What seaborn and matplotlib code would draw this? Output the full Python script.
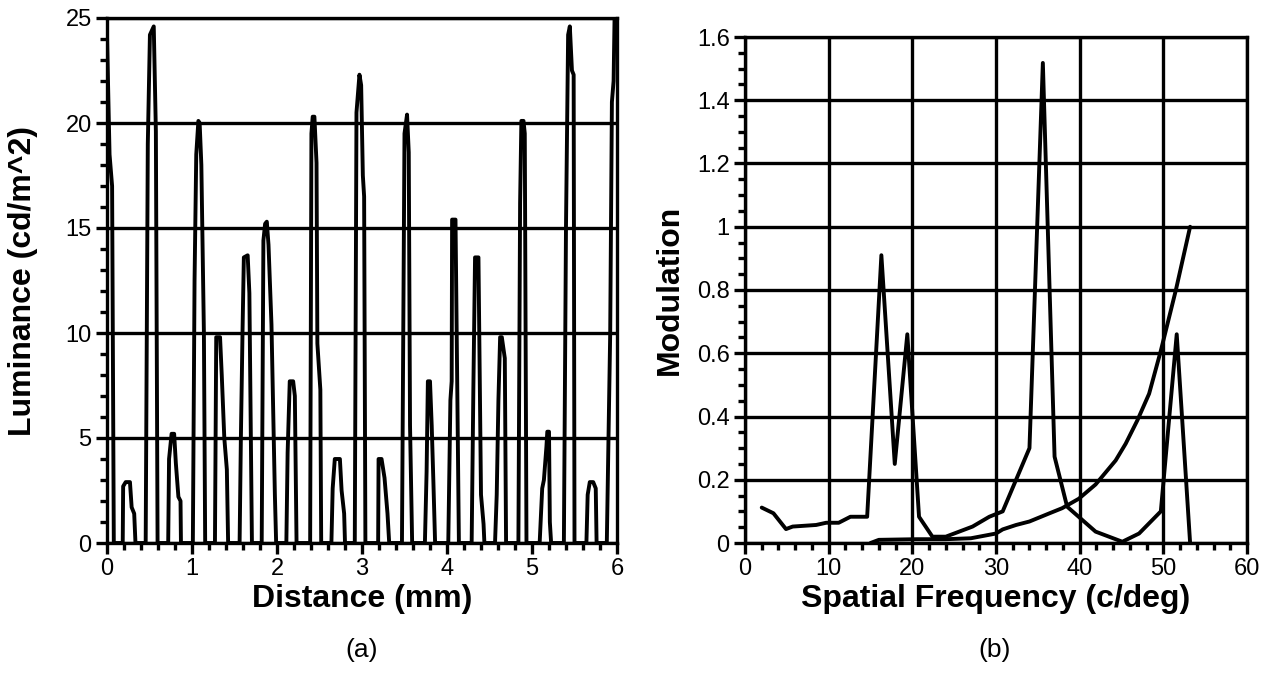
import numpy as np
import pandas as pd
import matplotlib
matplotlib.use("Agg")
import matplotlib.pyplot as plt
from matplotlib.ticker import MultipleLocator, FuncFormatter
import seaborn as sns

# ---------------- data ----------------
# (a) luminance profile
distance_mm = [
    0.00, 0.03, 0.06, 0.08,
    0.185, 0.19, 0.22, 0.27, 0.29, 0.32, 0.335,
    0.455, 0.48, 0.505, 0.55, 0.575, 0.595,
    0.72, 0.73, 0.76, 0.79, 0.81, 0.84, 0.865, 0.87,
    1.01, 1.03, 1.05, 1.075, 1.09, 1.11, 1.14, 1.155,
    1.27, 1.285, 1.33, 1.35, 1.38, 1.41, 1.425,
    1.56, 1.575, 1.595, 1.61, 1.655, 1.675, 1.705,
    1.82, 1.84, 1.86, 1.88, 1.90, 1.935, 1.975, 1.99,
    2.11, 2.125, 2.15, 2.19, 2.21, 2.23,
    2.39, 2.405, 2.42, 2.44, 2.465, 2.475, 2.51, 2.52,
    2.64, 2.655, 2.68, 2.74, 2.76, 2.79, 2.80,
    2.915, 2.935, 2.97, 2.99, 3.01, 3.025, 3.04,
    3.19, 3.195, 3.23, 3.265, 3.30, 3.32,
    3.47, 3.50, 3.53, 3.55, 3.565, 3.59,
    3.74, 3.76, 3.775, 3.80, 3.82, 3.84, 3.86,
    4.015, 4.04, 4.055, 4.06, 4.10, 4.12, 4.14,
    4.29, 4.31, 4.33, 4.37, 4.385, 4.40, 4.43, 4.44,
    4.565, 4.585, 4.605, 4.625, 4.645, 4.68, 4.695,
    4.84, 4.86, 4.875, 4.90, 4.915, 4.935,
    5.09, 5.12, 5.14, 5.17, 5.18, 5.20, 5.21, 5.225,
    5.375, 5.40, 5.425, 5.445, 5.47, 5.49, 5.50,
    5.64, 5.655, 5.68, 5.72, 5.75, 5.76,
    5.88, 5.92, 5.94, 5.96, 5.975, 6.0,
]
luminance = [
    24.2, 18.5, 17.0, 0.0,
    0.0, 2.7, 2.9, 2.9, 1.7, 1.4, 0.0,
    0.0, 19.0, 24.2, 24.6, 19.6, 0.0,
    0.0, 4.0, 5.2, 5.2, 3.8, 2.2, 2.0, 0.0,
    0.0, 12.5, 18.5, 20.1, 20.0, 18.0, 10.0, 0.0,
    0.0, 9.8, 9.8, 8.0, 5.0, 3.5, 0.0,
    0.0, 5.0, 10.2, 13.6, 13.7, 11.9, 0.0,
    0.0, 14.4, 15.2, 15.3, 14.2, 10.4, 2.3, 0.0,
    0.0, 4.3, 7.7, 7.7, 7.0, 0.0,
    0.0, 19.5, 20.3, 20.3, 18.1, 9.5, 7.3, 0.0,
    0.0, 2.6, 4.0, 4.0, 2.5, 1.4, 0.0,
    0.0, 20.5, 22.3, 21.8, 17.5, 16.5, 0.0,
    0.0, 4.0, 4.0, 3.1, 1.4, 0.0,
    0.0, 19.5, 20.4, 18.6, 5.6, 0.0,
    0.0, 3.4, 7.7, 7.7, 5.6, 2.9, 0.0,
    0.0, 6.8, 7.7, 15.4, 15.4, 7.8, 0.0,
    0.0, 7.3, 13.6, 13.6, 8.0, 2.3, 0.9, 0.0,
    0.0, 2.3, 6.8, 9.8, 9.8, 8.8, 0.0,
    0.0, 16.2, 20.1, 20.1, 19.5, 0.0,
    0.0, 2.6, 3.0, 4.6, 5.3, 5.3, 1.0, 0.0,
    0.0, 15.1, 24.2, 24.6, 22.5, 22.3, 0.0,
    0.0, 2.3, 2.9, 2.9, 2.6, 0.0,
    0.0, 10.0, 21.0, 22.0, 26.0, 26.0,
]

# (b) modulation spectra
freq_1 = [2, 3.4, 4.9, 5.7, 8.5, 9.7, 11.2, 12.6, 14.6, 16.3, 17.9, 19.4, 20.8,
          22.4, 24, 27.2, 29.2, 30.8, 34, 35.6, 37, 38.5, 41.9, 45.1, 47.1, 49.7,
          51.6, 53.2]
mod_1 = [0.112, 0.094, 0.044, 0.052, 0.057, 0.064, 0.064, 0.083, 0.083, 0.91,
         0.25, 0.66, 0.083, 0.02, 0.02, 0.052, 0.083, 0.1, 0.3, 1.518, 0.273,
         0.115, 0.036, 0.004, 0.03, 0.1, 0.66, 0.0]
freq_2 = [15, 16, 20.5, 24, 27, 30, 30.8, 32.4, 34, 36.4, 37.9, 39.9, 41.9, 44.3,
          45.5, 46.9, 48.3, 49.7, 51.5, 53.2]
mod_2 = [0.0, 0.01, 0.012, 0.012, 0.015, 0.03, 0.043, 0.057, 0.068, 0.094, 0.11,
         0.14, 0.185, 0.261, 0.314, 0.388, 0.472, 0.608, 0.8, 1.0]

# ---------------- style ----------------
sns.set_style("ticks")
plt.rcParams['font.family'] = ['Liberation Sans', 'DejaVu Sans']
plt.rcParams.update({
    "text.color": "black",
    "axes.labelcolor": "black",
    "xtick.color": "black",
    "ytick.color": "black",
    "axes.edgecolor": "black",
})

LW = 2.8
GRID_LW = 2.4
TICK_FS = 17
LABEL_FS = 23

fig = plt.figure(figsize=(12.68, 6.83), dpi=100)
axA = fig.add_axes([107/1268, 140/683, 510/1268, 525/683])
axB = fig.add_axes([745/1268, 140/683, 502/1268, 506/683])

dfA = pd.DataFrame({"x": distance_mm, "y": luminance})
sns.lineplot(data=dfA, x="x", y="y", ax=axA, sort=False, estimator=None,
             color="black", linewidth=LW, zorder=3)

dfB1 = pd.DataFrame({"x": freq_1, "y": mod_1})
dfB2 = pd.DataFrame({"x": freq_2, "y": mod_2})
sns.lineplot(data=dfB1, x="x", y="y", ax=axB, sort=False, estimator=None,
             color="black", linewidth=LW, zorder=3)
sns.lineplot(data=dfB2, x="x", y="y", ax=axB, sort=False, estimator=None,
             color="black", linewidth=LW, zorder=3)

def style_axes(ax):
    for s in ax.spines.values():
        s.set_visible(True)
        s.set_linewidth(2.4)
        s.set_color("black")
    ax.tick_params(which="major", direction="out", length=8, width=2.4,
                   labelsize=TICK_FS, colors="black", pad=3)
    ax.tick_params(which="minor", direction="out", length=5, width=2.4,
                   colors="black")

# panel (a)
axA.set_xlim(0, 6)
axA.set_ylim(0, 25)
axA.xaxis.set_major_locator(MultipleLocator(1))
axA.xaxis.set_minor_locator(MultipleLocator(0.2))
axA.yaxis.set_major_locator(MultipleLocator(5))
axA.yaxis.set_minor_locator(MultipleLocator(1))
axA.grid(True, axis="y", which="major", color="black", linewidth=GRID_LW)
axA.grid(False, axis="x")
style_axes(axA)
axA.set_xlabel("Distance (mm)", fontsize=LABEL_FS, fontweight="bold")
axA.set_ylabel("Luminance (cd/m^2)", fontsize=LABEL_FS, fontweight="bold")
axA.xaxis.set_label_coords(0.5, -0.078)
axA.yaxis.set_label_coords(-0.135, 0.5)

# panel (b)
axB.set_xlim(0, 60)
axB.set_ylim(0, 1.6)
axB.xaxis.set_major_locator(MultipleLocator(10))
axB.xaxis.set_minor_locator(MultipleLocator(2))
axB.yaxis.set_major_locator(MultipleLocator(0.2))
axB.yaxis.set_minor_locator(MultipleLocator(0.05))
axB.yaxis.set_major_formatter(FuncFormatter(lambda v, p: f"{v:.1f}".rstrip("0").rstrip(".") if v else "0"))
axB.grid(True, which="major", color="black", linewidth=GRID_LW)
style_axes(axB)
axB.set_xlabel("Spatial Frequency (c/deg)", fontsize=LABEL_FS, fontweight="bold")
axB.set_ylabel("Modulation", fontsize=LABEL_FS, fontweight="bold")
axB.xaxis.set_label_coords(0.5, -0.081)
axB.yaxis.set_label_coords(-0.12, 0.5)

for ax in (axA, axB):
    ax.set_axisbelow(True)

fig.text(362/1268, 1 - 650/683, "(a)", ha="center", va="center", fontsize=19)
fig.text(995/1268, 1 - 650/683, "(b)", ha="center", va="center", fontsize=19)

fig.savefig("out.png", dpi=100, facecolor="white")
